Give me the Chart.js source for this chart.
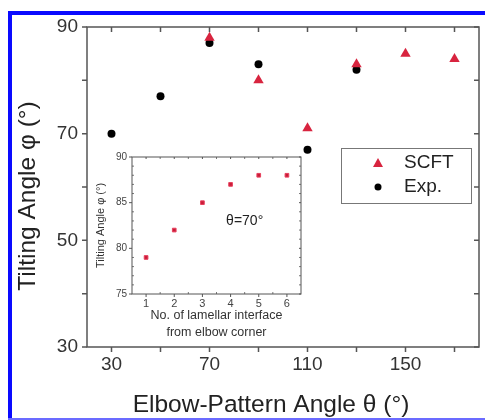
<!DOCTYPE html>
<html>
<head>
<meta charset="utf-8">
<script src="https://cdn.jsdelivr.net/npm/chart.js@4.4.1/dist/chart.umd.min.js"></script>
<style>
  html, body { margin: 0; padding: 0; background: #fff; }
  #wrap { position: relative; width: 485px; height: 420px; }
  #main { position: absolute; left: 0; top: 0; }
  #inset { position: absolute; left: 95px; top: 146px; }
</style>
</head>
<body>
<div id="wrap">
  <canvas id="main" width="485" height="420"></canvas>
  <canvas id="inset" width="211" height="199"></canvas>
</div>
<script>
// main plot data
const angles = [30, 50, 70, 90, 110, 130, 150, 170];
const scftAngles = [70, 90, 110, 130, 150, 170];
const scftTilt = [88, 80, 71, 83, 85, 84];
const expAngles = [30, 50, 70, 90, 110, 130];
const expTilt = [70, 77, 87, 83, 67, 82];
const xLabels = [30, 70, 110, 150];
const yTicks = [30, 40, 50, 60, 70, 80, 90];
const yLabels = [30, 50, 70, 90];

// inset data (theta = 70)
const layerNo = [1, 2, 3, 4, 5, 6];
const layerTilt = [79, 82, 85, 87, 88, 88];
const insetYTicks = [75, 80, 85, 90];

const RED = "#d8243f";
const AXIS = "#555";
const FONT = "Arial, 'Liberation Sans', sans-serif";

// draws the box around the plot and ticks on all four sides
function boxTicks(opts) {
  return {
    id: "boxTicks",
    afterDraw(chart) {
      const { ctx, chartArea: a, scales } = chart;
      const xs = scales.x, ys = scales.y;
      ctx.save();
      ctx.strokeStyle = AXIS;
      ctx.lineWidth = opts.lw;
      ctx.strokeRect(a.left, a.top, a.right - a.left, a.bottom - a.top);
      ctx.beginPath();
      opts.xMajor.forEach((v) => {
        const px = xs.getPixelForValue(v);
        ctx.moveTo(px, a.bottom); ctx.lineTo(px, a.bottom + opts.out);
        ctx.moveTo(px, a.top); ctx.lineTo(px, a.top + opts.in);
      });
      opts.yMajor.forEach((v) => {
        const py = ys.getPixelForValue(v);
        ctx.moveTo(a.left, py); ctx.lineTo(a.left - opts.out, py);
        ctx.moveTo(a.right, py); ctx.lineTo(a.right - opts.in, py);
      });
      ctx.stroke();
      if (opts.xMinor || opts.yMinor) {
        ctx.lineWidth = 0.8;
        ctx.beginPath();
        (opts.xMinor || []).forEach((v) => {
          const px = xs.getPixelForValue(v);
          ctx.moveTo(px, a.bottom); ctx.lineTo(px, a.bottom - opts.minor);
          ctx.moveTo(px, a.top); ctx.lineTo(px, a.top + opts.minor);
        });
        (opts.yMinor || []).forEach((v) => {
          const py = ys.getPixelForValue(v);
          ctx.moveTo(a.left, py); ctx.lineTo(a.left + opts.minor, py);
          ctx.moveTo(a.right, py); ctx.lineTo(a.right - opts.minor, py);
        });
        ctx.stroke();
      }
      ctx.restore();
    },
  };
}

// blue frame, axis titles and legend for the main chart
const decor = {
  id: "decor",
  afterDraw(chart) {
    const { ctx } = chart;
    ctx.save();
    ctx.fillStyle = "#0a0aff";
    ctx.fillRect(8, 11, 477, 4);
    ctx.fillRect(8, 11, 4, 409);
    ctx.fillStyle = "#6b6bff";
    ctx.fillRect(8, 418, 477, 2);

    // axis titles (the original sits a bit off-centre)
    ctx.fillStyle = "#222";
    ctx.font = "24.5px " + FONT;
    ctx.textAlign = "center";
    ctx.textBaseline = "middle";
    ctx.fillText("Elbow-Pattern Angle θ (°)", 271, 405);
    ctx.save();
    ctx.translate(28, 196);
    ctx.rotate(-Math.PI / 2);
    ctx.fillText("Tilting Angle φ (°)", 0, 0);
    ctx.restore();

    // legend box
    ctx.textAlign = "left";
    ctx.strokeStyle = "#777";
    ctx.lineWidth = 1;
    ctx.strokeRect(341.5, 148.5, 130, 55);
    ctx.fillStyle = RED;
    ctx.beginPath();
    ctx.moveTo(378, 158); ctx.lineTo(383, 167); ctx.lineTo(373, 167);
    ctx.closePath(); ctx.fill();
    ctx.fillStyle = "#000";
    ctx.beginPath(); ctx.arc(378, 187, 3.5, 0, Math.PI * 2); ctx.fill();
    ctx.fillStyle = "#222";
    ctx.font = "19px " + FONT;
    ctx.fillText("SCFT", 404, 163);
    ctx.fillText("Exp.", 404, 187);
    ctx.restore();
  },
};

new Chart(document.getElementById("main"), {
  type: "scatter",
  data: {
    datasets: [
      {
        label: "SCFT",
        data: scftAngles.map((x, i) => ({ x, y: scftTilt[i] })),
        pointStyle: "triangle",
        pointRadius: 6,
        backgroundColor: RED,
        borderColor: RED,
        borderWidth: 0,
      },
      {
        label: "Exp.",
        data: expAngles.map((x, i) => ({ x, y: expTilt[i] })),
        pointStyle: "circle",
        pointRadius: 4,
        backgroundColor: "#000",
        borderColor: "#000",
        borderWidth: 0,
      },
    ],
  },
  options: {
    responsive: false,
    animation: false,
    layout: { padding: { left: 0, right: 3, top: 27, bottom: 0 } },
    plugins: { legend: { display: false }, tooltip: { enabled: false } },
    scales: {
      x: {
        type: "linear",
        min: 20,
        max: 180,
        afterBuildTicks: (s) => { s.ticks = angles.map((v) => ({ value: v })); },
        afterFit: (s) => { s.height = 73; },
        grid: { display: false, drawTicks: false },
        border: { display: false },
        ticks: {
          padding: 6,
          color: "#333",
          font: { size: 19, family: FONT },
          callback: (v) => (xLabels.includes(v) ? String(v) : ""),
        },
      },
      y: {
        min: 30,
        max: 90,
        afterBuildTicks: (s) => { s.ticks = yTicks.map((v) => ({ value: v })); },
        afterFit: (s) => { s.width = 87; },
        grid: { display: false, drawTicks: false },
        border: { display: false },
        ticks: {
          padding: 9,
          color: "#333",
          font: { size: 19, family: FONT },
          callback: (v) => (yLabels.includes(v) ? String(v) : ""),
        },
      },
    },
  },
  plugins: [
    boxTicks({ xMajor: angles, yMajor: yTicks, out: 5, in: 5, lw: 1.5 }),
    decor,
  ],
});

// "θ=70°" note inside the inset
const insetNote = {
  id: "insetNote",
  afterDraw(chart) {
    const { ctx, scales } = chart;
    ctx.save();
    ctx.fillStyle = "#222";
    ctx.font = "14px " + FONT;
    ctx.textAlign = "center";
    ctx.textBaseline = "middle";
    ctx.fillText("θ=70°", scales.x.getPixelForValue(4.5), scales.y.getPixelForValue(83));
    ctx.restore();
  },
};

new Chart(document.getElementById("inset"), {
  type: "scatter",
  data: {
    datasets: [
      {
        label: "θ=70°",
        data: layerNo.map((x, i) => ({ x, y: layerTilt[i] })),
        pointStyle: "rect",
        pointRadius: 2.6,
        backgroundColor: "#c81d38",
        borderColor: "#e8405e",
        borderWidth: 1,
      },
    ],
  },
  options: {
    responsive: false,
    animation: false,
    layout: { padding: { left: 0, right: 2, top: 8, bottom: 0 } },
    plugins: { legend: { display: false }, tooltip: { enabled: false } },
    scales: {
      x: {
        type: "linear",
        min: 0.5,
        max: 6.5,
        afterBuildTicks: (s) => { s.ticks = layerNo.map((v) => ({ value: v })); },
        afterFit: (s) => { s.height = 51; },
        grid: { display: false, drawTicks: false },
        border: { display: false },
        ticks: { padding: 3, color: "#444", font: { size: 11, family: FONT } },
        title: {
          display: true,
          text: ["No. of lamellar interface", "from elbow corner"],
          color: "#333",
          font: { size: 12.5, family: FONT, lineHeight: 1.35 },
          padding: { top: 0, bottom: 4 },
        },
      },
      y: {
        min: 75,
        max: 90,
        afterBuildTicks: (s) => { s.ticks = insetYTicks.map((v) => ({ value: v })); },
        afterFit: (s) => { s.width = 37; },
        grid: { display: false, drawTicks: false },
        border: { display: false },
        ticks: { padding: 5, color: "#444", font: { size: 10, family: FONT } },
        title: {
          display: true,
          text: "Tilting Angle φ (°)",
          color: "#333",
          font: { size: 11, family: FONT, lineHeight: 1 },
          padding: { top: 0, bottom: 0 },
        },
      },
    },
  },
  plugins: [
    boxTicks({
      xMajor: layerNo, yMajor: insetYTicks, out: 3, in: 2, lw: 1,
      xMinor: [1.5, 2.5, 3.5, 4.5, 5.5],
      yMinor: [76, 77, 78, 79, 81, 82, 83, 84, 86, 87, 88, 89],
      minor: 2,
    }),
    insetNote,
  ],
});
</script>
</body>
</html>
